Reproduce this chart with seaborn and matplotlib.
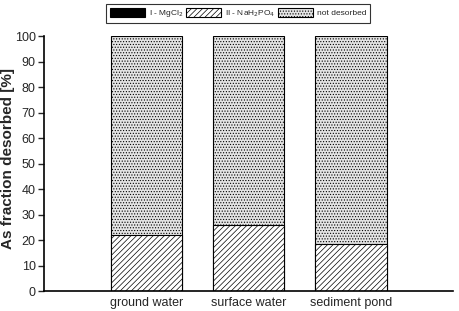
import matplotlib
matplotlib.use("Agg")
import matplotlib.pyplot as plt
import seaborn as sns
import pandas as pd
from matplotlib.patches import Patch

sns.set_style("white")
plt.rcParams['font.family'] = ['Liberation Sans', 'DejaVu Sans']
plt.rcParams['hatch.linewidth'] = 0.5

categories = ["ground water", "surface water", "sediment pond"]
mgcl2 = [0.0, 0.0, 0.0]
nah2po4 = [22.0, 26.0, 18.5]
not_desorbed = [100 - a - b for a, b in zip(mgcl2, nah2po4)]
series_labels = ["I - MgCl$_2$", "II - NaH$_2$PO$_4$", "not desorbed"]
yticks = [0, 10, 20, 30, 40, 50, 60, 70, 80, 90, 100]

df = pd.DataFrame({
    "cat": categories,
    "top": [a + b + c for a, b, c in zip(mgcl2, nah2po4, not_desorbed)],
    "mid": [a + b for a, b in zip(mgcl2, nah2po4)],
    "low": mgcl2,
})

fig = plt.figure(figsize=(4.59, 3.11), dpi=100)
ax = fig.add_axes([0.096, 0.064, 0.891, 0.820])

stipple_face = "#e4e4e4"
plt.rcParams['hatch.color'] = '#8a8a8a'
sns.barplot(data=df, x="cat", y="top", ax=ax, color=stipple_face, edgecolor="black",
            linewidth=0.8, width=0.7, saturation=1)
for p in ax.patches:
    p.set_hatch("......")
bars_before = len(ax.patches)
sns.barplot(data=df, x="cat", y="mid", ax=ax, color="white", edgecolor="black",
            linewidth=0.8, width=0.7, saturation=1)
for p in ax.patches[bars_before:]:
    p.set_hatch("//////")
    p._hatch_color = (0, 0, 0, 1)
sns.barplot(data=df, x="cat", y="low", ax=ax, color="black", edgecolor="black",
            linewidth=0.8, width=0.7, saturation=1)

ax.set_xlim(-1, 3)
ax.set_ylim(0, 100)
ax.set_yticks(yticks)
ax.set_yticklabels([str(t) for t in yticks], fontsize=9)
ax.tick_params(axis="y", direction="out", length=4, width=1, left=True, pad=2)
ax.tick_params(axis="x", length=0, labelsize=9, pad=4)
ax.set_xlabel("")
ax.set_ylabel("As fraction desorbed [%]", fontsize=11, fontweight="bold")
ax.yaxis.set_label_coords(-0.070, 0.52)
for s in ["top", "right"]:
    ax.spines[s].set_visible(False)
for s in ["left", "bottom"]:
    ax.spines[s].set_linewidth(1.2)
    ax.spines[s].set_color("black")

handles = [
    Patch(facecolor="black", edgecolor="black", linewidth=0.8),
    Patch(facecolor="white", edgecolor="black", hatch="//////", linewidth=0.8),
    Patch(facecolor=stipple_face, edgecolor="black", hatch="......", linewidth=0.8),
]
leg = fig.legend(handles, series_labels, loc="upper center", bbox_to_anchor=(0.519, 1.0),
                 ncol=3, fontsize=6, frameon=True, fancybox=False, edgecolor="black",
                 handlelength=4.2, handleheight=1.3, columnspacing=0.35, handletextpad=0.45,
                 borderpad=0.45)
leg.get_frame().set_linewidth(0.8)

fig.savefig("out.png", dpi=100)
